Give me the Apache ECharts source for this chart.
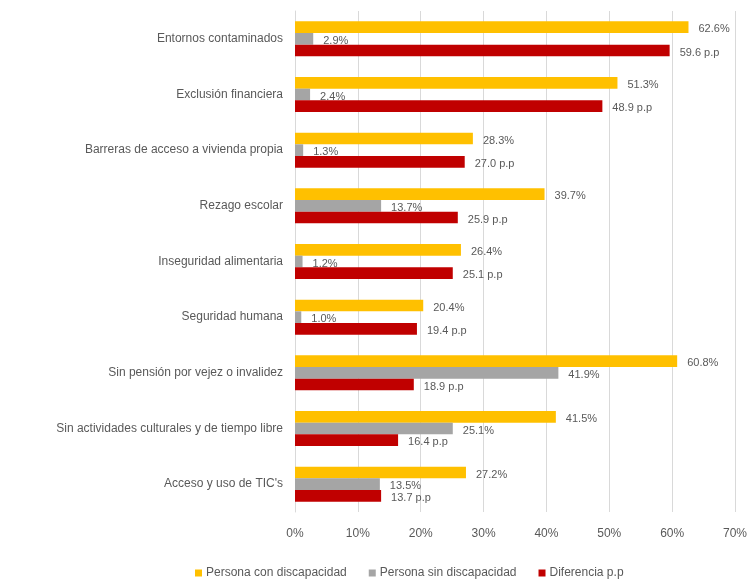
<!DOCTYPE html>
<html>
<head>
<meta charset="utf-8">
<script src="https://cdn.jsdelivr.net/npm/echarts@6/dist/echarts.min.js"></script>
<style>
  html, body { margin: 0; padding: 0; background: #fff; }
  #chart { width: 753px; height: 582px; }
</style>
</head>
<body>
<div id="chart"></div>
<script>
// Dimension names, top to bottom
const categories = [
  'Entornos contaminados',
  'Exclusión financiera',
  'Barreras de acceso a vivienda propia',
  'Rezago escolar',
  'Inseguridad alimentaria',
  'Seguridad humana',
  'Sin pensión por vejez o invalidez',
  'Sin actividades culturales y de tiempo libre',
  "Acceso y uso de TIC's"
];
const conDiscapacidad = [62.6, 51.3, 28.3, 39.7, 26.4, 20.4, 60.8, 41.5, 27.2];
const sinDiscapacidad = [2.9, 2.4, 1.3, 13.7, 1.2, 1.0, 41.9, 25.1, 13.5];
const diferencia = [59.6, 48.9, 27.0, 25.9, 25.1, 19.4, 18.9, 16.4, 13.7];
const seriesNames = ['Persona con discapacidad', 'Persona sin discapacidad', 'Diferencia p.p'];

const font = 'Liberation Sans, Arial, sans-serif';
const textColor = '#595959';

function barSeries(name, data, color, suffix) {
  return {
    name: name,
    type: 'bar',
    data: data,
    barGap: '0%',
    barCategoryGap: '37%',
    itemStyle: { color: color },
    label: {
      show: true,
      position: 'right',
      distance: 10,
      offset: [0, 2],
      color: textColor,
      fontFamily: font,
      fontSize: 11,
      formatter: p => p.value.toFixed(1) + suffix
    }
  };
}

const chart = echarts.init(document.getElementById('chart'), null, { renderer: 'canvas' });
chart.setOption({
  animation: false,
  grid: { left: 295, right: 18, top: 11, bottom: 70 },
  legend: {
    left: 190,
    top: 562,
    itemWidth: 7,
    itemHeight: 7,
    itemGap: 22,
    icon: 'rect',
    textStyle: { color: textColor, fontFamily: font, fontSize: 12, padding: [0, 0, 0, -1] },
    data: seriesNames
  },
  xAxis: {
    type: 'value',
    min: 0,
    max: 70,
    interval: 10,
    axisLine: { show: false },
    axisTick: { show: false },
    splitLine: { lineStyle: { color: '#d9d9d9', width: 1 } },
    axisLabel: {
      color: textColor,
      fontFamily: font,
      fontSize: 12,
      margin: 16,
      formatter: v => v + '%'
    }
  },
  yAxis: {
    type: 'category',
    inverse: true,
    data: categories,
    axisLine: { show: true, lineStyle: { color: '#d9d9d9' } },
    axisTick: { show: false },
    axisLabel: {
      color: textColor,
      fontFamily: font,
      fontSize: 12,
      margin: 12
    }
  },
  series: [
    barSeries(seriesNames[0], conDiscapacidad, '#FFC000', '%'),
    barSeries(seriesNames[1], sinDiscapacidad, '#A5A5A5', '%'),
    barSeries(seriesNames[2], diferencia, '#C00000', ' p.p')
  ]
});
</script>
</body>
</html>
